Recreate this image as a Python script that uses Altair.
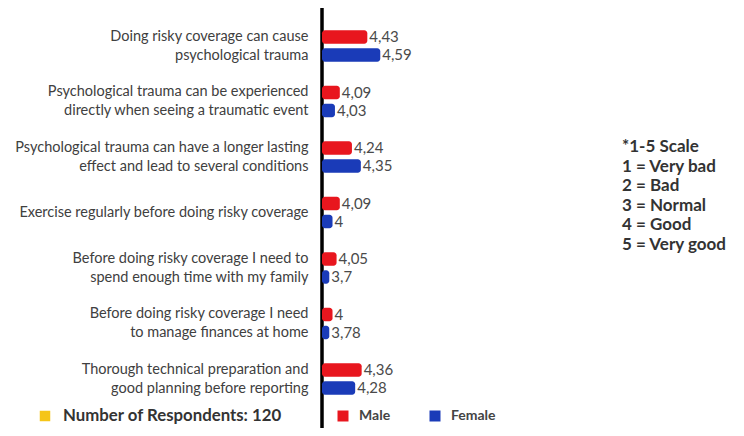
import altair as alt
import pandas as pd

categories = [
    "Doing risky coverage can cause|psychological trauma",
    "Psychological trauma can be experienced|directly when seeing a traumatic event",
    "Psychological trauma can have a longer lasting|effect and lead to several conditions",
    "Exercise regularly before doing risky coverage",
    "Before doing risky coverage I need to|spend enough time with my family",
    "Before doing risky coverage I need|to manage finances at home",
    "Thorough technical preparation and|good planning before reporting",
]
male = [4.43, 4.09, 4.24, 4.09, 4.05, 4.00, 4.36]
female = [4.59, 4.03, 4.35, 4.00, 3.70, 3.78, 4.28]
genders = ["Male", "Female"]
colors = ["#e8161e", "#1a3bb8"]
scale_note = ["*1-5 Scale", "1 = Very bad", "2 = Bad", "3 = Normal", "4 = Good", "5 = Very good"]
respondents_note = "Number of Respondents: 120"

rows = []
for c, m, f in zip(categories, male, female):
    rows.append({"category": c, "gender": "Male", "value": m})
    rows.append({"category": c, "gender": "Female", "value": f})
df = pd.DataFrame(rows)
one = pd.DataFrame({"k": [0]})

FONT = "Lato"
W, H = 140, 420
BASE = 3.87

xscale = alt.Scale(domain=[BASE, 5.6], range=[0, W], clamp=True, zero=False, nice=False)
yscale = alt.Scale(domain=categories, range=[10.25, 398.75], paddingInner=0, paddingOuter=0)
yoff = alt.YOffset("gender:N", sort=genders,
                   scale=alt.Scale(domain=genders, range=[9.75, 45.75], paddingInner=0, paddingOuter=0))

base = alt.Chart(df).transform_calculate(
    shown="max(datum.value, 3.96)",
    lab="replace(toString(datum.value), '.', ',')",
    base=str(BASE),
)

bars = base.mark_bar(height=13.5, cornerRadius=3).encode(
    y=alt.Y("category:N", sort=categories, scale=yscale,
            axis=alt.Axis(title=None, domain=False, ticks=False, labelPadding=14,
                          labelExpr="split(datum.label, '|')", labelFont=FONT,
                          labelFontSize=14.5, labelColor="#404040", labelLineHeight=19,
                          labelOffset={"condition": {"test": "indexof(datum.value, '|') >= 0", "value": -9.5},
                                       "value": 0},
                          labelLimit=400)),
    yOffset=yoff,
    x=alt.X("shown:Q", scale=xscale, axis=None),
    x2="base:Q",
    color=alt.Color("gender:N", scale=alt.Scale(domain=genders, range=colors),
                    legend=alt.Legend(orient="none", legendX=14, legendY=401, direction="horizontal",
                                      title=None, symbolType="square", symbolSize=121,
                                      symbolStrokeWidth=0, labelFont=FONT, labelFontSize=14,
                                      labelFontWeight="bold", labelColor="#444", labelOffset=9,
                                      columnPadding=37, symbolOpacity=1)),
)

texts = base.mark_text(align="left", baseline="middle", dx=2, font=FONT, fontSize=15,
                       color="#4a4a4a").encode(
    y=alt.Y("category:N", sort=categories, scale=yscale),
    yOffset=yoff,
    x=alt.X("shown:Q", scale=xscale),
    text="lab:N",
)

axis_line = alt.Chart(one).mark_rule(color="black", strokeWidth=3.5).encode(
    x=alt.value(0), y=alt.value(0), y2=alt.value(H)
)

note = alt.Chart(one).mark_text(text=scale_note, align="left", baseline="top", font=FONT,
                                fontSize=17, fontWeight="bold", color="#333",
                                lineHeight=19.5).encode(
    x=alt.value(300), y=alt.value(131)
)

resp_sq = alt.Chart(one).mark_square(size=110, color="#f5c518", opacity=1).encode(
    x=alt.value(-277), y=alt.value(408)
)
resp_txt = alt.Chart(one).mark_text(text=respondents_note, align="left", baseline="middle",
                                    font=FONT, fontSize=16.8, fontWeight="bold",
                                    color="#333").encode(
    x=alt.value(-259), y=alt.value(408)
)

chart = alt.layer(axis_line, bars, texts, note, resp_sq, resp_txt).properties(
    width=W, height=H,
    padding={"left": 314, "top": 0, "right": 274, "bottom": 0},
    autosize=alt.AutoSizeParams(type="none"),
    background="white",
).configure_view(stroke=None)

chart.save("out.html", embed_options={"renderer": "svg", "actions": False})
